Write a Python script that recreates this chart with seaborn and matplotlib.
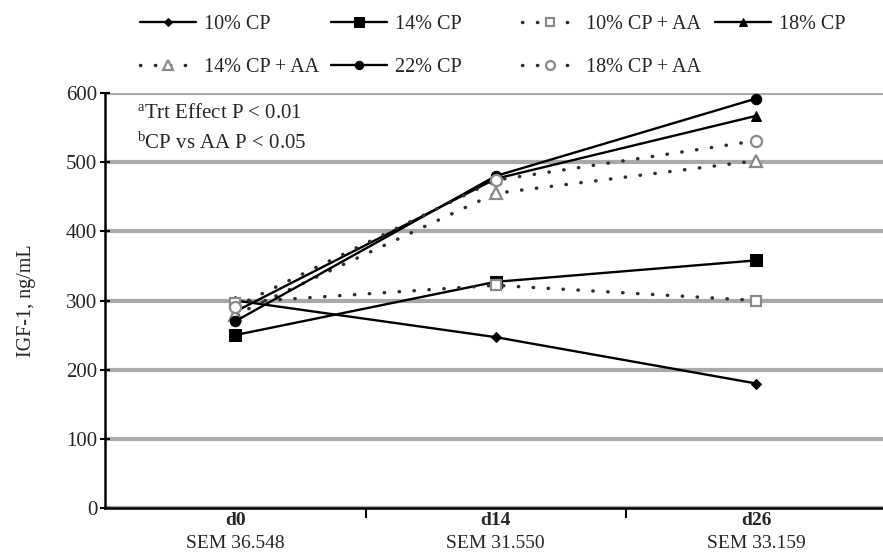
import matplotlib
matplotlib.use("Agg")
import matplotlib.pyplot as plt
from matplotlib.ticker import FixedLocator
import numpy as np
import pandas as pd
import seaborn as sns

# Serum IGF-1 by sampling day and dietary crude protein (CP) level, with and without amino acids (AA)
days = ["d0", "d14", "d26"]
sem_labels = ["SEM 36.548", "SEM 31.550", "SEM 33.159"]

cp10 = [300, 247, 180]
cp14 = [250, 327, 358]
cp10_aa = [297, 322, 300]
cp18 = [284, 476, 567]
cp14_aa = [279, 455, 502]
cp22 = [270, 480, 592]
cp18_aa = [291, 474, 531]

series = {
    "10% CP": cp10,
    "14% CP": cp14,
    "10% CP + AA": cp10_aa,
    "18% CP": cp18,
    "14% CP + AA": cp14_aa,
    "22% CP": cp22,
    "18% CP + AA": cp18_aa,
}

df = pd.DataFrame(
    [(name, d, v) for name, vals in series.items() for d, v in zip(days, vals)],
    columns=["diet", "day", "igf"],
)

sns.set_theme(style="white")
plt.rcParams["font.family"] = ["Liberation Serif", "DejaVu Serif"]
plt.rcParams["mathtext.default"] = "regular"

FS = 14.5
DOT = (0, (0.1, 4.2))
solid = dict(color="black", linestyle="-", linewidth=1.7)
dotted = dict(color="#2e2e2e", linestyle=DOT, linewidth=2.5, dash_capstyle="round")
styles = {
    "10% CP": dict(solid, marker="D", markersize=5.5, mfc="black", mec="black"),
    "14% CP": dict(solid, marker="s", markersize=8.5, mfc="black", mec="black"),
    "10% CP + AA": dict(dotted, marker="s", markersize=7.5, mfc="white", mec="#8a8a8a", mew=1.6),
    "18% CP": dict(solid, marker="^", markersize=7.5, mfc="black", mec="black"),
    "14% CP + AA": dict(dotted, marker="^", markersize=8.5, mfc="white", mec="#8a8a8a", mew=1.6),
    "22% CP": dict(solid, marker="o", markersize=7.5, mfc="black", mec="black"),
    "18% CP + AA": dict(dotted, marker="o", markersize=8, mfc="white", mec="#8a8a8a", mew=1.6),
}

W, H = 883, 558
fig = plt.figure(figsize=(W / 100, H / 100), dpi=100)
ax_left, ax_right, ax_top, ax_bot = 105, 883, 93, 508
ax = fig.add_axes([ax_left / W, 1 - ax_bot / H, (ax_right - ax_left) / W, (ax_bot - ax_top) / H])

for name in series:
    sub = df[df["diet"] == name]
    sns.lineplot(data=sub, x="day", y="igf", ax=ax, label=name, sort=False,
                 zorder=3, **styles[name])

cat_w = 260.5
ax.set_xlim(-0.5, -0.5 + (ax_right - ax_left) / cat_w)
ax.set_ylim(0, 600)
ax.set_yticks(np.arange(0, 601, 100))
ax.yaxis.grid(True, color="#a9a9a9", linewidth=3, zorder=0)
ax.xaxis.grid(False)
ax.set_axisbelow(True)

for s in ["top", "right"]:
    ax.spines[s].set_visible(False)
for s in ["left", "bottom"]:
    ax.spines[s].set_color("black")
    ax.spines[s].set_linewidth(1.8)
    ax.spines[s].set_zorder(4)

ax.tick_params(axis="y", direction="inout", length=7, width=1.5, color="black",
               labelsize=15, pad=2, left=True)
ax.set_xticks(range(len(days)))
ax.set_xticklabels(days, fontsize=14, fontweight="bold")
ax.tick_params(axis="x", which="major", length=0, pad=3)
ax.xaxis.set_minor_locator(FixedLocator([0.5, 1.5, 2.5]))
ax.tick_params(axis="x", which="minor", direction="out", length=7, width=1.5,
               color="black", bottom=True)

for i, lab in enumerate(sem_labels):
    ax.annotate(lab, xy=(i, 0), xycoords=("data", "axes fraction"),
                xytext=(0, -36 * 0.72), textcoords="offset points",
                ha="center", va="center", fontsize=14)

ax.set_xlabel("")
ax.set_ylabel("IGF-1, ng/mL", fontsize=FS, labelpad=22)

# Significance notes in the upper-left corner of the plot area (pixel offsets)
notes = [r"$^{a}$Trt Effect P < 0.01", r"$^{b}$CP vs AA P < 0.05"]
for k, note in enumerate(notes):
    ax.annotate(note, xy=(0, 1), xycoords="axes fraction",
                xytext=((137 - ax_left) * 0.72, -(20 + 30 * k) * 0.72),
                textcoords="offset points", fontsize=15, va="center", ha="left")

# Legend laid out as four fixed-width columns
ax.get_legend().remove()
handles, labels = ax.get_legend_handles_labels()
hmap = dict(zip(labels, handles))
columns = [
    (140, ["10% CP", "14% CP + AA"]),
    (331, ["14% CP", "22% CP"]),
    (522, ["10% CP + AA", "18% CP + AA"]),
    (715, ["18% CP"]),
]
for xpx, names in columns:
    fig.legend([hmap[n] for n in names], names, loc="upper left",
               bbox_to_anchor=(xpx / W, 1 - 15 / H), bbox_transform=fig.transFigure,
               frameon=False, fontsize=FS, borderpad=0, borderaxespad=0,
               handlelength=2.8, handletextpad=0.4, labelspacing=1.2,
               markerscale=0.8)

fig.savefig("out.png", dpi=100, facecolor="white")
